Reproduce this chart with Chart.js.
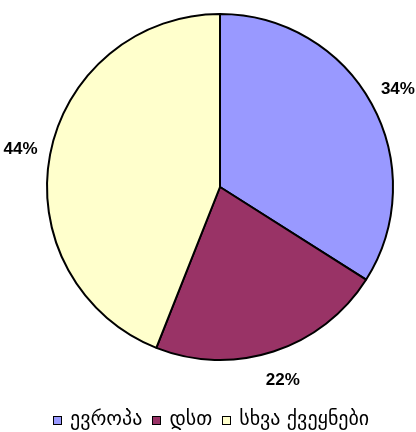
<!DOCTYPE html>
<html>
<head>
<meta charset="utf-8">
<script src="https://cdn.jsdelivr.net/npm/chart.js@4/dist/chart.umd.min.js"></script>
<style>
    html, body { margin: 0; padding: 0; background: #fff; }
    #wrap { position: relative; width: 416px; height: 432px; }
    #legend {
        position: absolute; left: 53px; top: 406px;
        display: flex; align-items: center;
        font-family: 'DejaVu Sans', sans-serif; font-size: 20px; line-height: 24px; color: #000;
        white-space: nowrap;
    }
    #legend .item { display: flex; align-items: center; margin-right: 10px; }
    #legend .box { width: 7px; height: 7px; border: 1px solid #000; margin-right: 8px; margin-top: 4px; }
</style>
</head>
<body>
<div id="wrap">
    <canvas id="pie" width="416" height="432"></canvas>
    <div id="legend"></div>
</div>
<script>
// données du graphique
const regions = ['ევროპა', 'დსთ', 'სხვა ქვეყნები'];
const shares = [34, 22, 44];
const pctLabels = ['34%', '22%', '44%'];
const colors = ['#9999FF', '#993366', '#FFFFCC'];

// légende HTML
const leg = document.getElementById('legend');
regions.forEach((r, i) => {
    const it = document.createElement('div');
    it.className = 'item';
    it.innerHTML = `<span class="box" style="background:${colors[i]}"></span><span>${r}</span>`;
    leg.appendChild(it);
});

// étiquettes % à l'extérieur des parts
const outsideLabels = {
    id: 'outsideLabels',
    afterDatasetsDraw(chart) {
        const ctx = chart.ctx;
        const meta = chart.getDatasetMeta(0);
        ctx.save();
        ctx.font = 'bold 17px "Liberation Sans", Arial, sans-serif';
        ctx.fillStyle = '#000';
        ctx.textAlign = 'center';
        ctx.textBaseline = 'middle';
        meta.data.forEach((arc, i) => {
            const mid = (arc.startAngle + arc.endAngle) / 2;
            const r = arc.outerRadius + 30;
            ctx.fillText(pctLabels[i], arc.x + Math.cos(mid) * r, arc.y + Math.sin(mid) * r);
        });
        ctx.restore();
    }
};

new Chart(document.getElementById('pie'), {
    type: 'pie',
    data: {
        labels: regions,
        datasets: [{
            data: shares,
            backgroundColor: colors,
            borderColor: '#000',
            borderWidth: 2
        }]
    },
    options: {
        responsive: false,
        animation: false,
        layout: { padding: { top: 13, bottom: 71, left: 46, right: 22 } },
        plugins: { legend: { display: false }, tooltip: { enabled: false } }
    },
    plugins: [outsideLabels]
});
</script>
</body>
</html>
